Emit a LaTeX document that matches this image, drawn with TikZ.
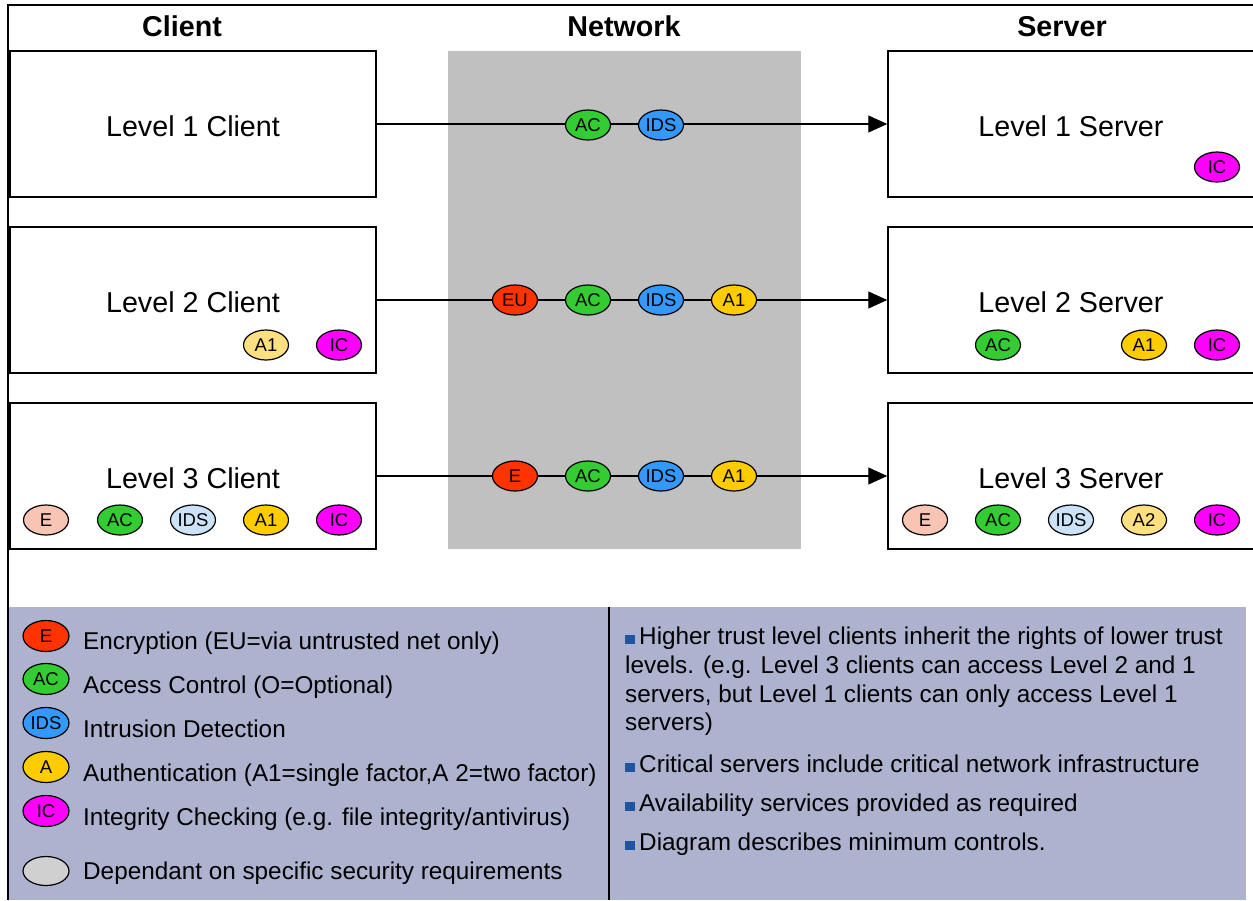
\documentclass[tikz,border=0pt]{standalone}
\usepackage{fontspec}
\setmainfont{Liberation Sans}
\usetikzlibrary{shapes.geometric,arrows.meta}
\definecolor{netgray}{RGB}{192,192,192}
\definecolor{legbg}{RGB}{173,179,207}
\definecolor{cE}{RGB}{255,51,0}
\definecolor{cEl}{RGB}{248,196,180}
\definecolor{cAC}{RGB}{51,204,51}
\definecolor{cIDS}{RGB}{51,153,255}
\definecolor{cIDSl}{RGB}{204,226,248}
\definecolor{cA}{RGB}{255,204,0}
\definecolor{cAl}{RGB}{255,224,128}
\definecolor{cIC}{RGB}{255,0,255}
\definecolor{cDep}{RGB}{208,208,208}
\definecolor{bul}{RGB}{31,84,160}
\newcommand{\sqbul}{{\color{bul}\rule{10pt}{9pt}}\hspace{4pt}}
\begin{document}
\begin{tikzpicture}[x=1pt,y=-1pt,
 box/.style={draw, line width=1.5pt, minimum width=366pt, minimum height=146pt, inner sep=0pt, text height=25pt, text depth=0pt, font=\fontsize{28.7}{34}\selectfont},
 hdr/.style={anchor=base, inner sep=0pt, font=\fontsize{28.7}{34}\selectfont\bfseries},
 ctl/.style={ellipse, draw, line width=1.2pt, minimum width=45pt, minimum height=30pt, inner sep=0pt, font=\fontsize{18.5}{18.5}\selectfont},
 leg/.style={ctl, minimum width=46pt, minimum height=31pt},
 legtxt/.style={anchor=base west, inner sep=0pt, font=\fontsize{24.3}{29}\selectfont},
 link/.style={line width=1.3pt, -{Triangle[length=19pt,width=17pt]}}
]
\clip (0,0) rectangle (1253,900);
\fill[white] (0,0) rectangle (1253,900);
\fill[netgray] (448,51) rectangle (801,549);
\fill[legbg] (8,607) rectangle (1246,900);
\draw[line width=1.5pt] (609,607) -- (609,900);
\draw[line width=2pt] (8,900) -- (8,5) -- (1253,5);

\node[hdr] (hc) at (182,36) {Client};
\node[hdr] (hn) at (624,36) {Network};
\node[hdr] (hs) at (1062,36) {Server};

\node[box] (c1) at (193,124) {Level 1 Client};
\node[box] (c2) at (193,300) {Level 2 Client};
\node[box] (c3) at (193,476) {Level 3 Client};
\node[box] (s1) at (1071,124) {Level 1 Server};
\node[box] (s2) at (1071,300) {Level 2 Server};
\node[box] (s3) at (1071,476) {Level 3 Server};

\draw[link] (c1.east) -- (s1.west);
\draw[link] (c2.east) -- (s2.west);
\draw[link] (c3.east) -- (s3.west);

% network row 1
\node[ctl, fill=cAC] (n1ac) at (588,125) {AC};
\node[ctl, fill=cIDS] (n1ids) at (661,125) {IDS};
% network row 2
\node[ctl, fill=cE] (n2eu) at (515,300) {EU};
\node[ctl, fill=cAC] (n2ac) at (588,300) {AC};
\node[ctl, fill=cIDS] (n2ids) at (661,300) {IDS};
\node[ctl, fill=cA] (n2a1) at (734,300) {A1};
% network row 3
\node[ctl, fill=cE] (n3e) at (515,476) {E};
\node[ctl, fill=cAC] (n3ac) at (588,476) {AC};
\node[ctl, fill=cIDS] (n3ids) at (661,476) {IDS};
\node[ctl, fill=cA] (n3a1) at (734,476) {A1};

% client controls
\node[ctl, fill=cAl] (c2a1) at (266,345) {A1};
\node[ctl, fill=cIC] (c2ic) at (339,345) {IC};
\node[ctl, fill=cEl] (c3e) at (46,520) {E};
\node[ctl, fill=cAC] (c3ac) at (120,520) {AC};
\node[ctl, fill=cIDSl] (c3ids) at (193,520) {IDS};
\node[ctl, fill=cA] (c3a1) at (266,520) {A1};
\node[ctl, fill=cIC] (c3ic) at (339,520) {IC};

% server controls
\node[ctl, fill=cIC] (s1ic) at (1217,167) {IC};
\node[ctl, fill=cAC] (s2ac) at (998,345) {AC};
\node[ctl, fill=cA] (s2a1) at (1144,345) {A1};
\node[ctl, fill=cIC] (s2ic) at (1217,345) {IC};
\node[ctl, fill=cEl] (s3e) at (925,520) {E};
\node[ctl, fill=cAC] (s3ac) at (998,520) {AC};
\node[ctl, fill=cIDSl] (s3ids) at (1071,520) {IDS};
\node[ctl, fill=cAl] (s3a2) at (1144,520) {A2};
\node[ctl, fill=cIC] (s3ic) at (1217,520) {IC};

% legend
\node[leg, fill=cE] (le) at (46,636) {E};
\node[leg, fill=cAC] (lac) at (46,679) {AC};
\node[leg, fill=cIDS] (lids) at (46,723) {IDS};
\node[leg, fill=cA] (la) at (46,767) {A};
\node[leg, fill=cIC] (lic) at (46,811) {IC};
\node[leg, fill=cDep, minimum height=29pt] (ldep) at (46,871) {};

\node[legtxt] (te) at (83,649) {Encryption (EU=via untrusted net only)};
\node[legtxt] (tac) at (83,693) {Access Control (O=Optional)};
\node[legtxt] (tids) at (83,737) {Intrusion Detection};
\node[legtxt] (ta) at (83,781) {Authentication (A1=single factor,A 2=two factor)};
\node[legtxt] (tic) at (83,825) {Integrity Checking (e.g. file integrity/antivirus)};
\node[legtxt] (tdep) at (83,879) {Dependant on specific security requirements};

\node[legtxt] (r1) at (625,644) {\sqbul Higher trust level clients inherit the rights of lower trust};
\node[legtxt] (r2) at (625,673) {levels. (e.g. Level 3 clients can access Level 2 and 1};
\node[legtxt] (r3) at (625,702) {servers, but Level 1 clients can only access Level 1};
\node[legtxt] (r4) at (625,730) {servers)};
\node[legtxt] (r5) at (625,772) {\sqbul Critical servers include critical network infrastructure};
\node[legtxt] (r6) at (625,811) {\sqbul Availability services provided as required};
\node[legtxt] (r7) at (625,850) {\sqbul Diagram describes minimum controls.};
\end{tikzpicture}
\end{document}
